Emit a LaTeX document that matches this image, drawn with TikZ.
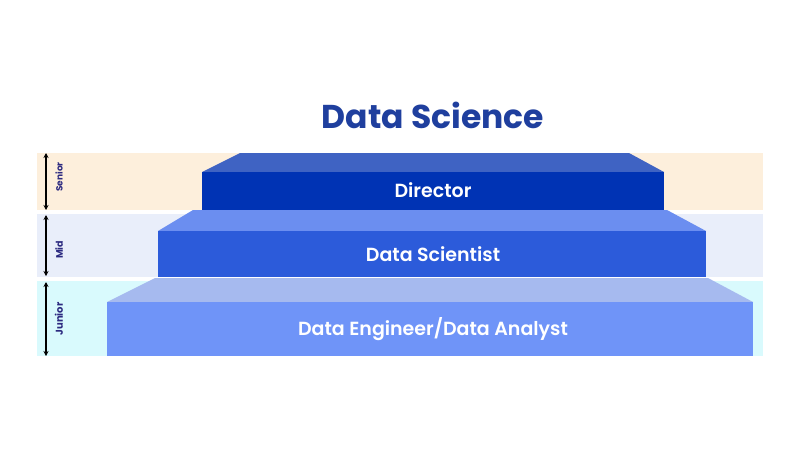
\documentclass[tikz,border=0pt]{standalone}
\usepackage{fontspec}
\setmainfont{Poppins}
\newfontfamily\popmed{Poppins SemiBold}
\usetikzlibrary{arrows.meta}
\definecolor{bandS}{HTML}{FDEFDC}
\definecolor{bandM}{HTML}{E9EEFA}
\definecolor{bandJ}{HTML}{D9FAFD}
\definecolor{dirTop}{HTML}{3F63C3}
\definecolor{dirFront}{HTML}{0033B4}
\definecolor{dsTop}{HTML}{6B8EF0}
\definecolor{dsFront}{HTML}{2C5BDA}
\definecolor{jTop}{HTML}{A6BAEF}
\definecolor{jFront}{HTML}{6F94F8}
\definecolor{titleC}{HTML}{1F3F9E}
\definecolor{sideC}{HTML}{2C2A80}
\tikzset{
  steplabel/.style={text=white, font=\popmed\fontsize{19}{22}\selectfont, inner sep=0pt},
  sidelabel/.style={text=sideC, rotate=90, inner sep=0pt},
  levelarrow/.style={{Stealth[length=5pt,width=5pt]}-{Stealth[length=5pt,width=5pt]}, line width=1.4pt, black},
}
\begin{document}
\begin{tikzpicture}[x=1pt,y=-1pt]
\useasboundingbox (0,0) rectangle (800,450);
\fill[white] (0,0) rectangle (800,450);
% bands
\fill[bandS] (37,153) rectangle (763,210);
\fill[bandM] (37,214) rectangle (763,277);
\fill[bandJ] (37,281) rectangle (763,356);
% junior step
\fill[jTop] (155,278) -- (708,278) -- (753,302) -- (107,302) -- cycle;
\fill[jFront] (107,302) rectangle (753,356);
% data scientist step
\fill[dsTop] (193,210) -- (667,210) -- (706,231) -- (158,231) -- cycle;
\fill[dsFront] (158,231) rectangle (706,277);
% director step
\fill[dirTop] (240,153) -- (629,153) -- (664,172) -- (202,172) -- cycle;
\fill[dirFront] (202,172) rectangle (664,210);
% texts
\node[text=titleC, font=\bfseries\fontsize{33}{36}\selectfont, inner sep=0pt] (title) at (433,115) {Data Science};
\node[steplabel] (director) at (433,190) {Director};
\node[steplabel] (scientist) at (433,254) {Data Scientist};
\node[steplabel] (engineer) at (433,329) {Data Engineer/Data Analyst};
% side arrows
\coordinate (sTop) at (46,153);
\coordinate (sBot) at (46,210);
\coordinate (mTop) at (46,215);
\coordinate (mBot) at (46,276);
\coordinate (jTopC) at (46,282);
\coordinate (jBot) at (46,356);
\draw[levelarrow] (sTop) -- (sBot);
\draw[levelarrow] (mTop) -- (mBot);
\draw[levelarrow] (jTopC) -- (jBot);
\node[sidelabel, font=\bfseries\fontsize{9}{10}\selectfont] (senior) at (59,177) {Senior};
\node[sidelabel, font=\bfseries\fontsize{9.5}{11}\selectfont] (mid) at (59,250) {Mid};
\node[sidelabel, font=\bfseries\fontsize{10}{12}\selectfont] (junior) at (59,319) {Junior};
\end{tikzpicture}
\end{document}
